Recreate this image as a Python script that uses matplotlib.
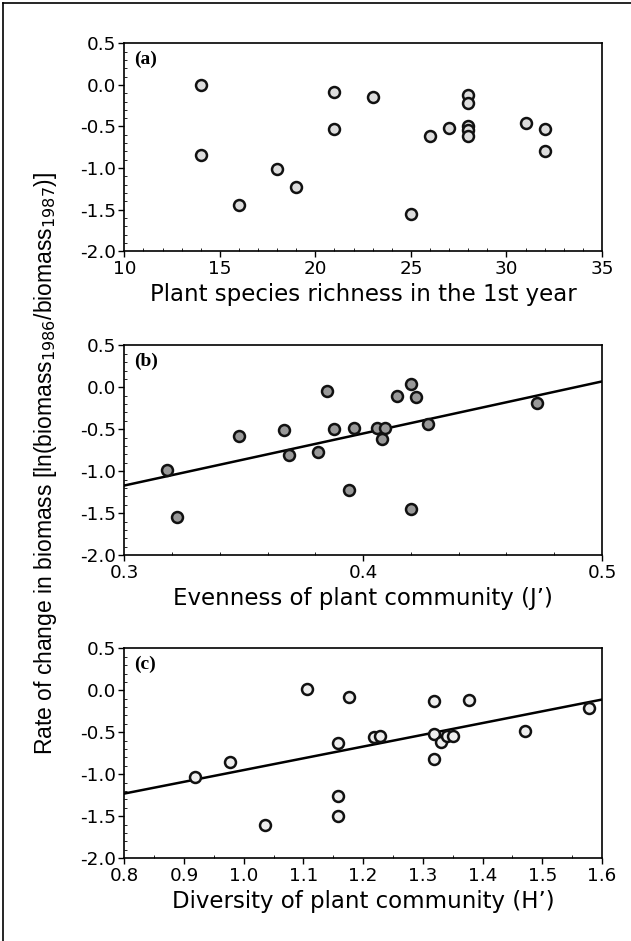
import matplotlib
matplotlib.use("Agg")
import matplotlib.pyplot as plt
from matplotlib.ticker import MultipleLocator
from matplotlib.lines import Line2D

# Panel (a): species richness
richness = [14, 14, 16, 18, 19, 21, 21, 23, 25, 26, 27, 28, 28, 28, 28, 28, 31, 32, 32]
rate_a = [0.00, -0.84, -1.45, -1.01, -1.23, -0.08, -0.53, -0.14, -1.55, -0.62, -0.52,
          -0.12, -0.22, -0.50, -0.54, -0.62, -0.46, -0.53, -0.79]

# Panel (b): evenness J'
evenness = [0.318, 0.322, 0.348, 0.367, 0.369, 0.381, 0.385, 0.388, 0.394, 0.396,
            0.406, 0.408, 0.409, 0.414, 0.420, 0.422, 0.420, 0.427, 0.473]
rate_b = [-0.99, -1.54, -0.58, -0.51, -0.81, -0.77, -0.04, -0.50, -1.22, -0.48,
          -0.49, -0.61, -0.48, -0.10, 0.04, -0.11, -1.45, -0.44, -0.19]
fit_b_x = [0.3, 0.5]
fit_b_y = [-1.17, 0.07]

# Panel (c): diversity H'
diversity = [0.918, 0.977, 1.035, 1.106, 1.176, 1.158, 1.158, 1.158, 1.218, 1.229,
             1.319, 1.318, 1.319, 1.330, 1.340, 1.351, 1.378, 1.471, 1.579]
rate_c = [-1.03, -0.85, -1.60, 0.02, -0.08, -0.63, -1.26, -1.50, -0.56, -0.55,
          -0.13, -0.52, -0.82, -0.62, -0.55, -0.54, -0.11, -0.48, -0.21]
fit_c_x = [0.8, 1.6]
fit_c_y = [-1.23, -0.11]

yticks = [0.5, 0.0, -0.5, -1.0, -1.5, -2.0]

fig = plt.figure(figsize=(6.31, 9.41), dpi=100)
left, width = 0.197, 0.757
axes_specs = [
    (0.733, 0.221),
    (0.410, 0.223),
    (0.088, 0.223),
]

tick_font = dict(family="DejaVu Sans", size=13.2)

def style(ax, xlim, xticks, xfmt, xminor, label, letter):
    ax.set_xlim(*xlim)
    ax.set_ylim(-2.0, 0.5)
    ax.set_xticks(xticks)
    ax.set_xticklabels([xfmt.format(v) for v in xticks], **tick_font)
    ax.set_yticks(yticks)
    ax.set_yticklabels(["{:.1f}".format(v) for v in yticks], **tick_font)
    ax.xaxis.set_minor_locator(MultipleLocator(xminor))
    ax.yaxis.set_minor_locator(MultipleLocator(0.1))
    ax.tick_params(which="major", direction="out", length=4, width=1.0, pad=2)
    ax.tick_params(which="minor", direction="in", length=2, width=0.6)
    for s in ax.spines.values():
        s.set_linewidth(1.2)
    ax.set_xlabel(label, family="DejaVu Sans", size=16.5, labelpad=4)
    ax.text(0.02, 0.965, letter, transform=ax.transAxes, family="Liberation Serif",
            weight="bold", size=14, va="top", ha="left")

mk = dict(s=62, linewidths=1.8, edgecolors="#111111", zorder=3)

ax1 = fig.add_axes([left, axes_specs[0][0], width, axes_specs[0][1]])
ax1.scatter(richness, rate_a, facecolors="#dddddd", **mk)
style(ax1, (10, 35), [10, 15, 20, 25, 30, 35], "{:d}", 1,
      "Plant species richness in the 1st year", "(a)")

ax2 = fig.add_axes([left, axes_specs[1][0], width, axes_specs[1][1]])
ax2.plot(fit_b_x, fit_b_y, color="black", lw=1.8, zorder=2)
ax2.scatter(evenness, rate_b, facecolors="#999999", **mk)
style(ax2, (0.3, 0.5), [0.3, 0.4, 0.5], "{:.1f}", 0.02,
      "Evenness of plant community (J\u2019)", "(b)")

ax3 = fig.add_axes([left, axes_specs[2][0], width, axes_specs[2][1]])
ax3.plot(fit_c_x, fit_c_y, color="black", lw=1.8, zorder=2)
ax3.scatter(diversity, rate_c, facecolors="#eeeeee", **mk)
style(ax3, (0.8, 1.6), [0.8, 0.9, 1.0, 1.1, 1.2, 1.3, 1.4, 1.5, 1.6], "{:.1f}", 0.05,
      "Diversity of plant community (H\u2019)", "(c)")

fig.text(0.072, 0.508,
         r"Rate of change in biomass [ln(biomass$_{1986}$/biomass$_{1987}$)]",
         rotation=90, ha="center", va="center", family="Liberation Sans", size=16.5)

# page frame lines (left and top)
fig.add_artist(Line2D([0.005, 0.005], [0.0, 0.997], color="black", lw=1.2, transform=fig.transFigure))
fig.add_artist(Line2D([0.005, 1.0], [0.997, 0.997], color="black", lw=1.2, transform=fig.transFigure))

fig.savefig("out.png", dpi=100)
